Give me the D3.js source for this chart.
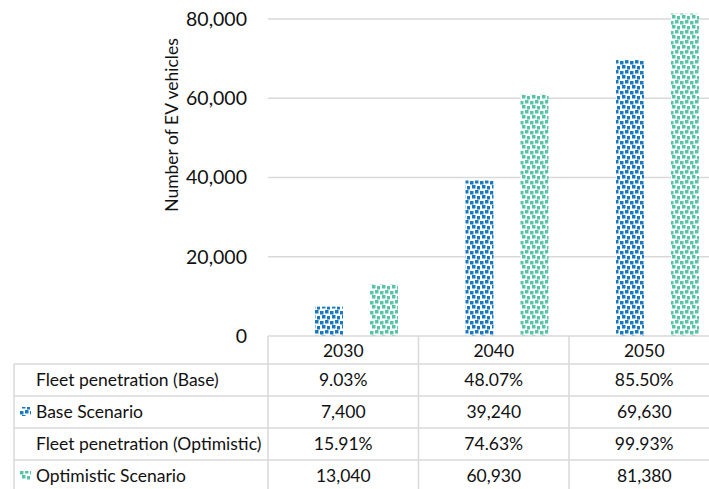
<!DOCTYPE html>
<html>
<head>
<meta charset="utf-8">
<script src="https://cdn.jsdelivr.net/npm/d3@7"></script>
<style>
  body { margin: 0; background: #fff; }
  text { font-family: Lato, "Open Sans", sans-serif; fill: #111; }
</style>
</head>
<body>
<div id="chart"></div>
<script>
// chart data
var years = ["2030", "2040", "2050"];
var baseValues = [7400, 39240, 69630];
var optValues = [13040, 60930, 81380];
var basePen = ["9.03%", "48.07%", "85.50%"];
var optPen = ["15.91%", "74.63%", "99.93%"];
var yTicks = [0, 20000, 40000, 60000, 80000];
var seriesNames = ["Base Scenario", "Optimistic Scenario"];

var width = 709, height = 489;
var colors = ["#1a78c2", "#58c4a6"];

var svg = d3.select("#chart").append("svg")
    .attr("width", width)
    .attr("height", height);

// confetti patterns
var defs = svg.append("defs");
var squares = [[0, 1], [5, 0], [2, 5], [7, 6]];
colors.forEach(function(c, i) {
  var p = defs.append("pattern")
      .attr("id", "conf" + i)
      .attr("patternUnits", "userSpaceOnUse")
      .attr("width", 10).attr("height", 10);
  p.append("rect").attr("width", 10).attr("height", 10).attr("fill", "#fff");
  p.selectAll("rect.sq").data(squares).enter().append("rect")
      .attr("class", "sq")
      .attr("x", function(d) { return d[0]; })
      .attr("y", function(d) { return d[1]; })
      .attr("width", 3.5).attr("height", 3.5)
      .attr("fill", c);
});

// scales
var plotLeft = 268, plotTop = 19, plotBottom = 336;
var x = d3.scaleBand().domain(years).range([plotLeft, plotLeft + 3 * 150.5]);
var xs = d3.scaleBand().domain([0, 1]).range([47, 130]).paddingInner(0.491);
var y = d3.scaleLinear().domain([0, 80000]).range([plotBottom, plotTop]);

// gridlines
svg.append("g").selectAll("line")
    .data(yTicks.filter(function(d) { return d > 0; }))
  .enter().append("line")
    .attr("x1", plotLeft).attr("x2", width)
    .attr("y1", function(d) { return y(d); })
    .attr("y2", function(d) { return y(d); })
    .attr("stroke", "#d9d9d9")
    .attr("stroke-width", 1.5);

// y axis labels
var yAxis = svg.append("g")
    .attr("transform", "translate(" + (plotLeft - 21) + ",0)")
    .call(d3.axisLeft(y).tickValues(yTicks).tickSize(0).tickPadding(0)
      .tickFormat(d3.format(",")));
yAxis.select(".domain").remove();
yAxis.selectAll("text")
    .style("font-family", "Lato, sans-serif")
    .style("font-size", "19.5px")
    .attr("fill", "#111");

svg.append("text")
    .attr("transform", "translate(178,125) rotate(-90)")
    .attr("text-anchor", "middle")
    .style("font-size", "17.5px")
    .text("Number of EV vehicles");

// bars
var series = [baseValues, optValues];
series.forEach(function(vals, si) {
  svg.append("g").selectAll("rect")
      .data(vals)
    .enter().append("rect")
      .attr("x", function(d, i) { return x(years[i]) + xs(si); })
      .attr("width", xs.bandwidth())
      .attr("y", function(d) { return y(d); })
      .attr("height", function(d) { return y(0) - y(d); })
      .attr("fill", "url(#conf" + si + ")");
});

// data table
var rowTop = [336, 364, 396, 428, 460];
var rowH = 32;
var tbl = svg.append("g").attr("stroke", "#d9d9d9").attr("stroke-width", 1.5);
tbl.append("line").attr("x1", plotLeft).attr("x2", width)
    .attr("y1", rowTop[0]).attr("y2", rowTop[0]);
rowTop.slice(1).forEach(function(ry) {
  tbl.append("line").attr("x1", 14).attr("x2", width).attr("y1", ry).attr("y2", ry);
});
tbl.append("line").attr("x1", 14).attr("x2", 14).attr("y1", rowTop[1]).attr("y2", height);
years.forEach(function(yr) {
  tbl.append("line").attr("x1", x(yr)).attr("x2", x(yr))
      .attr("y1", rowTop[0]).attr("y2", height);
});

var rows = [
  {label: "Fleet penetration (Base)", vals: basePen, key: null},
  {label: seriesNames[0], vals: baseValues.map(d3.format(",")), key: 0},
  {label: "Fleet penetration (Optimistic)", vals: optPen, key: null},
  {label: seriesNames[1], vals: optValues.map(d3.format(",")), key: 1}
];

var fs = "17.5px";

// header years
svg.append("g").selectAll("text")
    .data(years)
  .enter().append("text")
    .attr("x", function(d) { return x(d) + x.bandwidth() / 2; })
    .attr("y", rowTop[0] + 15)
    .attr("dy", "0.35em")
    .attr("text-anchor", "middle")
    .style("font-size", fs)
    .text(function(d) { return d; });

rows.forEach(function(r, ri) {
  var cy = rowTop[ri + 1] + rowH / 2;
  svg.append("text")
      .attr("x", 36).attr("y", cy).attr("dy", "0.35em")
      .style("font-size", fs)
      .text(r.label);
  if (r.key !== null) {
    svg.append("rect")
        .attr("x", 20).attr("y", cy - 5)
        .attr("width", 11).attr("height", 9)
        .attr("fill", "url(#conf" + r.key + ")");
  }
  svg.append("g").selectAll("text")
      .data(r.vals)
    .enter().append("text")
      .attr("x", function(d, i) { return x(years[i]) + x.bandwidth() / 2; })
      .attr("y", cy).attr("dy", "0.35em")
      .attr("text-anchor", "middle")
      .style("font-size", fs)
      .text(function(d) { return d; });
});
</script>
</body>
</html>
